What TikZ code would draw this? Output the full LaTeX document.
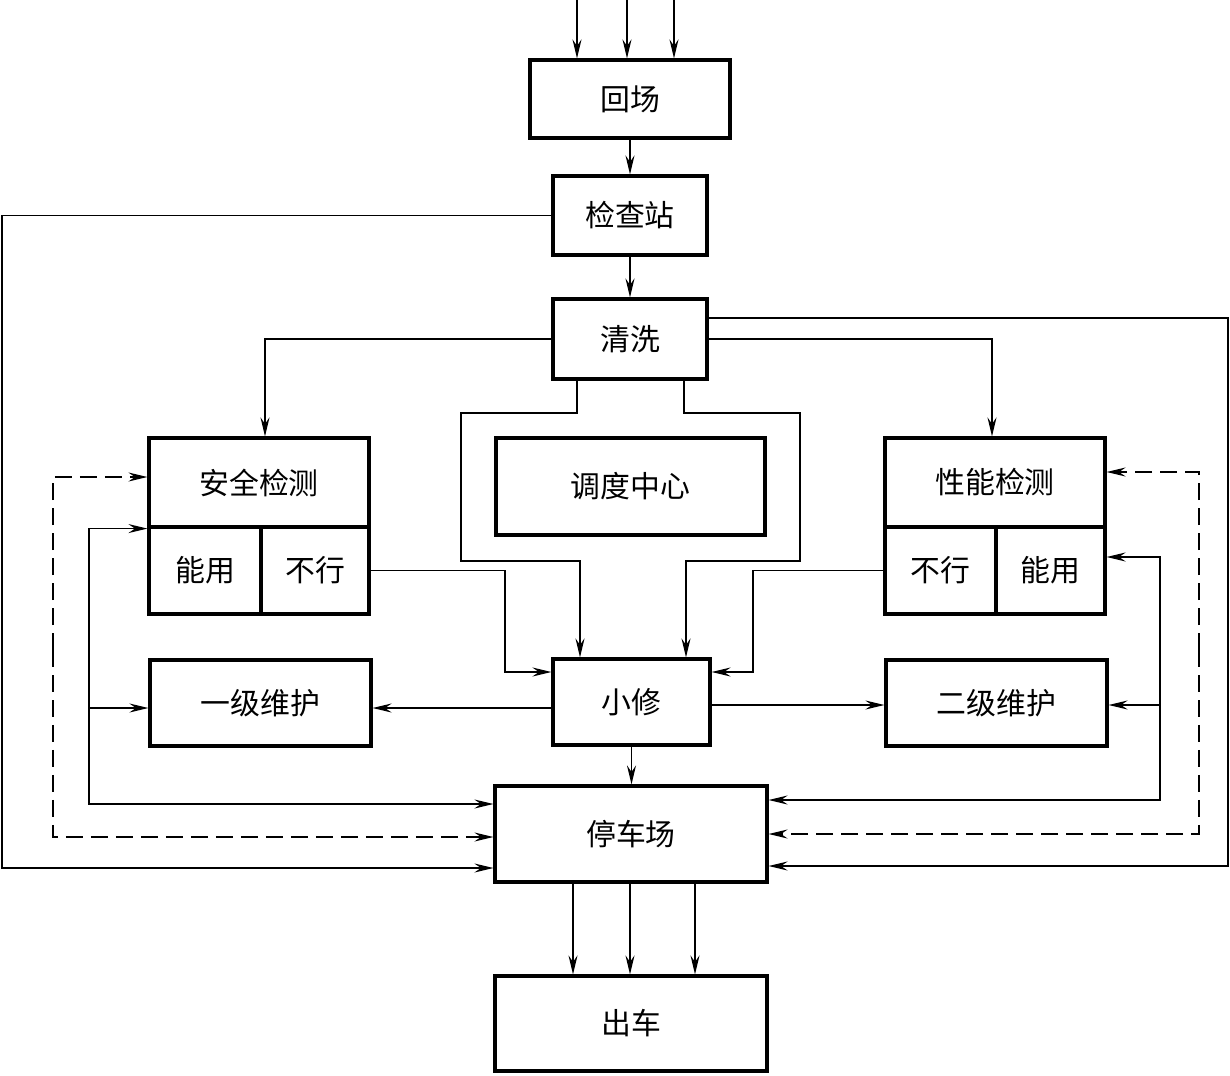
\documentclass[tikz,border=0pt]{standalone}
\usepackage{fontspec}
\setmainfont{Noto Sans CJK SC}
\usetikzlibrary{arrows.meta}

\tikzset{
  box/.style={draw, line width=1.8pt, inner sep=0pt, font=\fontsize{17}{20}\selectfont},
  conn/.style={line width=0.9pt, -{Stealth[length=3.8mm, width=1.8mm, inset=1.3mm]}},
  dconn/.style={conn, dash pattern=on 3.4mm off 1.6mm},
}

\begin{document}
\begin{tikzpicture}[x=0.02cm, y=-0.02cm]
    \useasboundingbox (0,0) rectangle (1230,1075);

    % Main column
    \node[box, minimum width=40mm, minimum height=15.6mm] (hc) at (630,99) {回场};
    \node[box, minimum width=30.8mm, minimum height=15.8mm] (jcz) at (630,215.5) {检查站};
    \node[box, minimum width=30.8mm, minimum height=16mm] (qx) at (630,339) {清洗};
    \node[box, minimum width=53.8mm, minimum height=19.4mm] (ddzx) at (630.5,486.5) {调度中心};
    \node[box, minimum width=31.4mm, minimum height=17.2mm] (xx) at (631.5,702) {小修};
    \node[box, minimum width=54.4mm, minimum height=19.2mm] (tcc) at (631,834) {停车场};
    \node[box, minimum width=54.4mm, minimum height=19mm] (cc) at (631,1023.5) {出车};

    % Safety check (left)
    \node[box, minimum width=44mm, minimum height=17.8mm] (aqt) at (259,482.5) {安全检测};
    \node[box, minimum width=22.4mm, minimum height=17.4mm] (aqok) at (205,570.5) {能用};
    \node[box, minimum width=21.6mm, minimum height=17.4mm] (aqno) at (315,570.5) {不行};
    \node[box, minimum width=44.2mm, minimum height=17.2mm] (yj) at (260.5,703) {一级维护};

    % Performance check (right)
    \node[box, minimum width=44mm, minimum height=17.8mm] (xnt) at (995,482.5) {性能检测};
    \node[box, minimum width=22.2mm, minimum height=17.4mm] (xnno) at (940.5,570.5) {不行};
    \node[box, minimum width=21.8mm, minimum height=17.4mm] (xnok) at (1050.5,570.5) {能用};
    \node[box, minimum width=44.2mm, minimum height=17.2mm] (ej) at (996.5,703) {二级维护};

    % Incoming and outgoing vehicles
    \foreach \x in {577,627,674} {
        \coordinate (in\x) at (\x,0);
        \draw[conn] (in\x) -- (hc.north -| in\x);
    }
    \foreach \x in {573,630,695}
        \draw[conn] (tcc.south -| \x,0) -- (cc.north -| \x,0);

    % Main flow
    \draw[conn] (hc.south) -- (jcz.north);
    \draw[conn] (jcz.south) -- (qx.north);
    \draw[conn] (jcz.west) -- (jcz.west -| 2,0) |- (tcc.west |- 0,868);
    \draw[conn] (qx.west) -| (aqt.north -| 265,0);
    \draw[conn] (qx.east) -| (xnt.north -| 992,0);
    \draw[conn] (qx.east |- 0,318) -- (1228,318) |- (tcc.east |- 0,866);

    % Around the dispatch centre
    \draw[conn] (qx.south -| 577,0) -- (577,413) -- (461,413) -- (461,561) -- (580,561) -- (xx.north -| 580,0);
    \draw[conn] (qx.south -| 684,0) -- (684,413) -- (800,413) -- (800,561) -- (686,561) -- (xx.north -| 686,0);

    % Failed checks go to repair
    \draw[conn] (aqno.east) -| (505,672) -- (xx.west |- 0,672);
    \draw[conn] (xnno.west) -| (753,672) -- (xx.east |- 0,672);
    \draw[conn] (xx.west |- 0,708) -- (yj.east |- 0,708);
    \draw[conn] (xx.east |- 0,705) -- (ej.west |- 0,705);
    \draw[conn] (xx.south) -- (xx.south |- tcc.north);

    % Left return lines
    \coordinate (lj) at (89,708);
    \draw[conn] (lj) |- (aqt.south west);
    \draw[conn] (lj) -- (yj.west |- lj);
    \draw[conn] (lj) |- (tcc.west |- 0,804);
    \coordinate (ld) at (53,650);
    \draw[dconn] (ld) |- (aqt.west |- 0,477);
    \draw[dconn] (ld) |- (tcc.west |- 0,837);

    % Right return lines
    \coordinate (rj) at (1160,705);
    \draw[conn] (rj) |- (xnok.east |- 0,557);
    \draw[conn] (rj) -- (ej.east |- rj);
    \draw[conn] (rj) |- (tcc.east |- 0,800);
    \coordinate (rd) at (1199,650);
    \draw[dconn] (rd) |- (xnt.east |- 0,472);
    \draw[dconn] (rd) |- (tcc.east |- 0,834);
\end{tikzpicture}
\end{document}
